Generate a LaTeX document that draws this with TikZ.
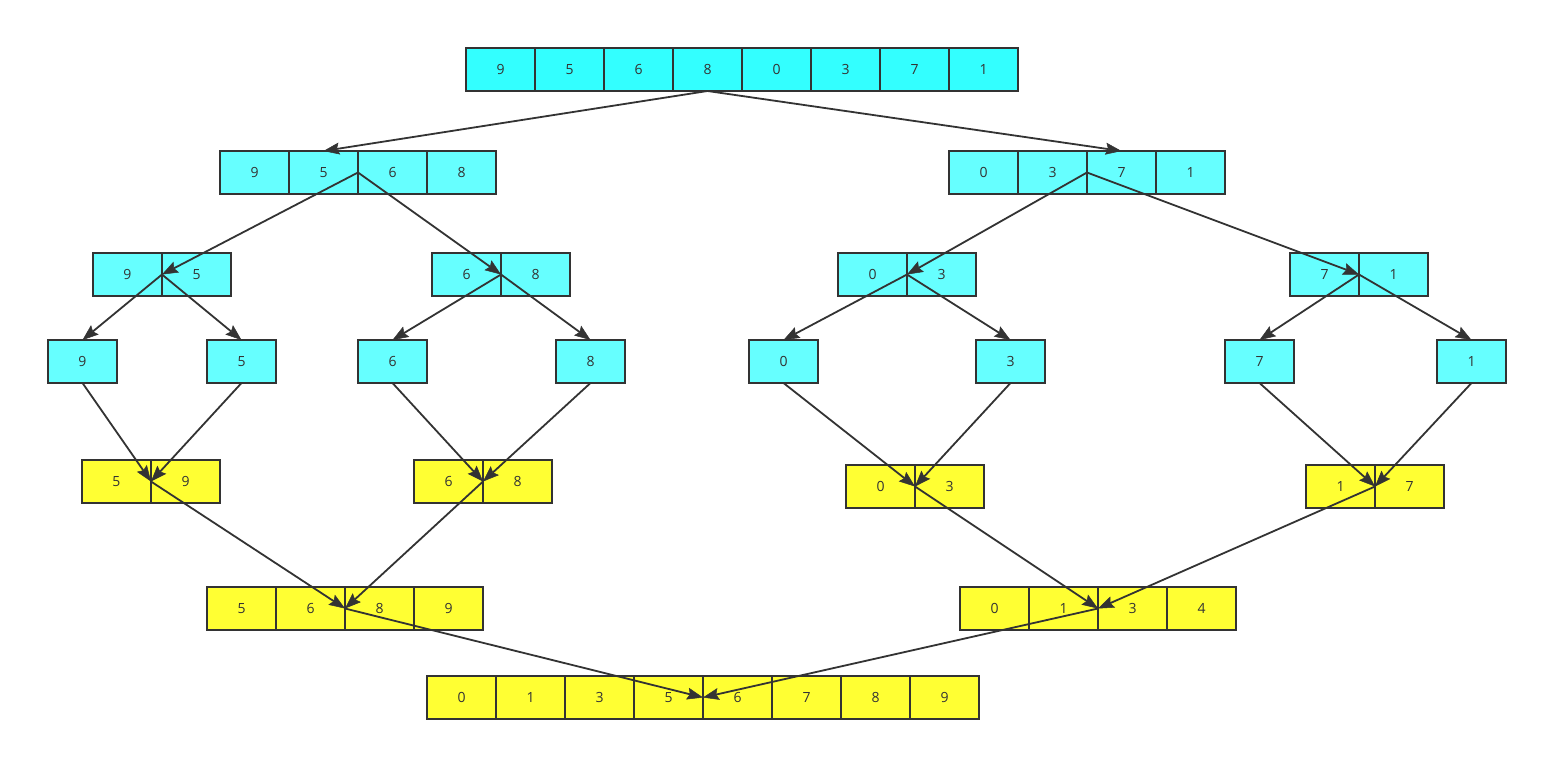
\documentclass[tikz,border=0pt]{standalone}
\usepackage{fontspec}
\setmainfont{Open Sans}
\usetikzlibrary{arrows.meta}
\definecolor{cyanA}{HTML}{33FFFF}
\definecolor{cyanB}{HTML}{66FFFF}
\definecolor{yel}{HTML}{FFFF33}
\definecolor{ink}{HTML}{333333}
\tikzset{
  cell/.style={draw=ink, line width=2pt, minimum width=69pt, minimum height=43pt, inner sep=0pt, outer sep=0pt, text=ink, font=\fontsize{14}{14}\selectfont},
  link/.style={draw=ink, line width=1.8pt, -{Stealth[length=16pt,width=12pt,inset=2.5pt,line width=0.5pt,fill=ink]}},
}
\newcommand{\cellrow}[5]{%
  \foreach \v [count=\i] in {#5}
    \node[cell, fill=#4] (#1-\i) at ({#2+69*(\i-0.5)},{#3+21.5}) {\v};%
}
\begin{document}
\begin{tikzpicture}[x=1pt,y=-1pt]
\useasboundingbox (0,0) rectangle (1568,781);
% split rows
\cellrow{A}{466}{48}{cyanA}{9,5,6,8,0,3,7,1}
\cellrow{B}{220}{151}{cyanB}{9,5,6,8}
\cellrow{C}{949}{151}{cyanB}{0,3,7,1}
\cellrow{D}{93}{253}{cyanB}{9,5}
\cellrow{E}{432}{253}{cyanB}{6,8}
\cellrow{F}{838}{253}{cyanB}{0,3}
\cellrow{G}{1290}{253}{cyanB}{7,1}
\cellrow{H1}{48}{340}{cyanB}{9}
\cellrow{H2}{207}{340}{cyanB}{5}
\cellrow{H3}{358}{340}{cyanB}{6}
\cellrow{H4}{556}{340}{cyanB}{8}
\cellrow{H5}{749}{340}{cyanB}{0}
\cellrow{H6}{976}{340}{cyanB}{3}
\cellrow{H7}{1225}{340}{cyanB}{7}
\cellrow{H8}{1437}{340}{cyanB}{1}
% merge rows
\cellrow{I}{82}{460}{yel}{5,9}
\cellrow{J}{414}{460}{yel}{6,8}
\cellrow{K}{846}{465}{yel}{0,3}
\cellrow{L}{1306}{465}{yel}{1,7}
\cellrow{M}{207}{587}{yel}{5,6,8,9}
\cellrow{N}{960}{587}{yel}{0,1,3,4}
\cellrow{O}{427}{676}{yel}{0,1,3,5,6,7,8,9}
% connectors
\draw[link] (A-4.south) -- (B-2.north);
\draw[link] (A-4.south) -- (C-3.north);
\draw[link] (B-2.east) -- (D-1.east);
\draw[link] (B-2.east) -- (E-1.east);
\draw[link] (C-2.east) -- (F-1.east);
\draw[link] (C-2.east) -- (G-1.east);
\draw[link] (D-1.east) -- (H1-1.north);
\draw[link] (D-1.east) -- (H2-1.north);
\draw[link] (E-1.east) -- (H3-1.north);
\draw[link] (E-1.east) -- (H4-1.north);
\draw[link] (F-1.east) -- (H5-1.north);
\draw[link] (F-1.east) -- (H6-1.north);
\draw[link] (G-1.east) -- (H7-1.north);
\draw[link] (G-1.east) -- (H8-1.north);
\draw[link] (H1-1.south) -- (I-1.east);
\draw[link] (H2-1.south) -- (I-1.east);
\draw[link] (H3-1.south) -- (J-1.east);
\draw[link] (H4-1.south) -- (J-1.east);
\draw[link] (H5-1.south) -- (K-1.east);
\draw[link] (H6-1.south) -- (K-1.east);
\draw[link] (H7-1.south) -- (L-1.east);
\draw[link] (H8-1.south) -- (L-1.east);
\draw[link] (I-1.east) -- (M-2.east);
\draw[link] (J-1.east) -- (M-2.east);
\draw[link] (K-1.east) -- (N-2.east);
\draw[link] (L-1.east) -- (N-2.east);
\draw[link] (M-2.east) -- (O-4.east);
\draw[link] (N-2.east) -- (O-4.east);
\end{tikzpicture}
\end{document}
